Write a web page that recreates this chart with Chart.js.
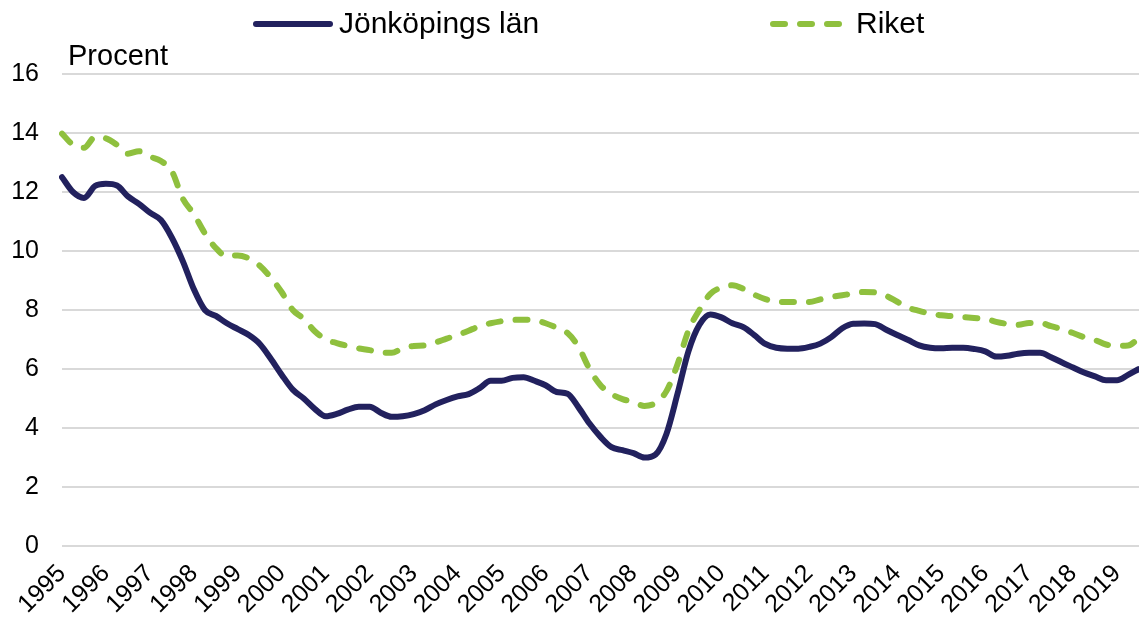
<!DOCTYPE html>
<html>
<head>
<meta charset="utf-8">
<script src="https://cdn.jsdelivr.net/npm/chart.js@4"></script>
<style>
  html, body { margin: 0; padding: 0; background: #fff; }
  #wrap { width: 1139px; height: 619px; }
</style>
</head>
<body>
<div id="wrap"><canvas id="c" width="1139" height="619"></canvas></div>
<script>
// Tick labels (years) and quarterly categories 1995 K1 .. 2019 K3
const years = ['1995','1996','1997','1998','1999','2000','2001','2002','2003','2004','2005','2006',
  '2007','2008','2009','2010','2011','2012','2013','2014','2015','2016','2017','2018','2019'];
const quarters = ['K1','K2','K3','K4'];
const categories = years.flatMap(y => quarters.map(q => y + ' ' + q)).slice(0, 99);

// Jönköpings län, percent (quarterly readings)
const jonkoping = [
  12.5, 12.0, 11.8, 12.2, 12.28, 12.22, 11.85, 11.6, 11.3, 11.05, 10.45, 9.65,
  8.7, 8.0, 7.8, 7.55, 7.35, 7.15, 6.85, 6.35, 5.8, 5.3, 5.0, 4.65,
  4.4, 4.48, 4.62, 4.72, 4.72, 4.52, 4.38, 4.4, 4.47, 4.6, 4.8, 4.95,
  5.07, 5.15, 5.35, 5.6, 5.6, 5.7, 5.72, 5.6, 5.45, 5.22, 5.16, 4.7,
  4.15, 3.7, 3.35, 3.25, 3.15, 3.0, 3.1, 3.8, 5.15, 6.6, 7.5, 7.85,
  7.75, 7.55, 7.42, 7.15, 6.85, 6.72, 6.69, 6.69, 6.75, 6.86, 7.08, 7.38,
  7.53, 7.54, 7.52, 7.33, 7.15, 6.98, 6.8, 6.72, 6.7, 6.72, 6.72, 6.68,
  6.6, 6.42, 6.45, 6.52, 6.55, 6.55, 6.4, 6.22, 6.05, 5.88, 5.75, 5.62,
  5.62, 5.8, 6.0
];

// Riket, percent (quarterly readings)
const riket = [
  13.98, 13.6, 13.5, 13.86, 13.82, 13.6, 13.3, 13.38, 13.2, 13.05, 12.7, 11.77,
  11.25, 10.6, 10.1, 9.82, 9.85, 9.75, 9.5, 9.1, 8.6, 8.0, 7.7, 7.28,
  7.0, 6.88, 6.78, 6.7, 6.64, 6.55, 6.55, 6.7, 6.78, 6.8, 6.9, 7.03,
  7.15, 7.3, 7.45, 7.55, 7.62, 7.66, 7.67, 7.65, 7.55, 7.4, 7.22, 6.75,
  6.0, 5.45, 5.15, 4.98, 4.88, 4.75, 4.85, 5.25, 6.15, 7.3, 8.0, 8.55,
  8.76, 8.84, 8.72, 8.52, 8.37, 8.29, 8.27, 8.27, 8.27, 8.36, 8.44, 8.5,
  8.56, 8.61, 8.6, 8.48, 8.28, 8.08, 7.97, 7.88, 7.82, 7.79, 7.76, 7.73,
  7.7, 7.6, 7.53, 7.5, 7.56, 7.56, 7.45, 7.35, 7.22, 7.08, 6.98, 6.83,
  6.79, 6.8, 7.05
];

const seriesNames = ['Jönköpings län', 'Riket'];
const yTicks = { min: 0, max: 16, step: 2 };
const unitLabel = 'Procent';

const FONT = '"Liberation Sans", Arial, sans-serif';

const manualLegend = {
  id: 'manualLegend',
  afterDraw(chart, args, opts) {
    const ctx = chart.ctx;
    ctx.save();
    chart.data.datasets.forEach((ds, i) => {
      const it = opts.items[i];
      ctx.beginPath();
      ctx.strokeStyle = ds.borderColor;
      ctx.lineWidth = 6;
      ctx.lineCap = 'round';
      ctx.setLineDash(ds.borderDash || []);
      ctx.moveTo(it.x + 3, it.y);
      ctx.lineTo(it.x + opts.sampleWidth - 3, it.y);
      ctx.stroke();
      ctx.setLineDash([]);
      ctx.fillStyle = '#000';
      ctx.font = opts.fontSize + 'px ' + FONT;
      ctx.textBaseline = 'alphabetic';
      ctx.textAlign = 'left';
      ctx.fillText(ds.label, it.x + opts.sampleWidth + opts.gap, it.baseline);
    });
    ctx.font = opts.unitFontSize + 'px ' + FONT;
    ctx.fillText(opts.unitText, opts.unitX, opts.unitY);
    ctx.restore();
  }
};

new Chart(document.getElementById('c'), {
  type: 'line',
  data: {
    labels: categories,
    datasets: [
      {
        label: seriesNames[0],
        data: jonkoping,
        borderColor: '#22215e',
        borderWidth: 6,
        pointRadius: 0,
        cubicInterpolationMode: 'monotone',
        borderJoinStyle: 'round',
        borderCapStyle: 'round',
        fill: false
      },
      {
        label: seriesNames[1],
        data: riket,
        borderColor: '#8fc03e',
        borderWidth: 6,
        borderDash: [12, 15],
        borderCapStyle: 'round',
        borderJoinStyle: 'round',
        pointRadius: 0,
        cubicInterpolationMode: 'monotone',
        fill: false
      }
    ]
  },
  options: {
    responsive: false,
    animation: false,
    layout: { padding: { top: 74, left: 0, right: 0, bottom: 0 } },
    plugins: {
      legend: { display: false },
      tooltip: { enabled: false },
      manualLegend: {
        items: [ { x: 253, y: 24, baseline: 33 }, { x: 770, y: 24, baseline: 33 } ],
        sampleWidth: 80,
        gap: 6,
        fontSize: 30,
        unitText: unitLabel,
        unitFontSize: 29,
        unitX: 68,
        unitY: 65
      }
    },
    scales: {
      x: {
        type: 'category',
        grid: { display: false, drawTicks: false },
        border: { display: false },
        afterFit(scale) { scale.height = 73; scale.paddingRight = 0; scale.paddingLeft = 0; },
        ticks: {
          autoSkip: false,
          maxRotation: 45,
          minRotation: 45,
          padding: 13,
          color: '#000',
          font: { family: FONT, size: 25 },
          callback(value) {
            const lab = this.getLabelForValue(value);
            return lab.endsWith('K1') ? lab.slice(0, 4) : '';
          }
        }
      },
      y: {
        min: yTicks.min,
        max: yTicks.max,
        afterFit(scale) { scale.width = 62; },
        grid: { color: '#d9d9d9', lineWidth: 2, drawTicks: false },
        border: { display: false },
        ticks: {
          stepSize: yTicks.step,
          padding: 23,
          color: '#000',
          font: { family: FONT, size: 25 }
        }
      }
    }
  },
  plugins: [manualLegend]
});
</script>
</body>
</html>
